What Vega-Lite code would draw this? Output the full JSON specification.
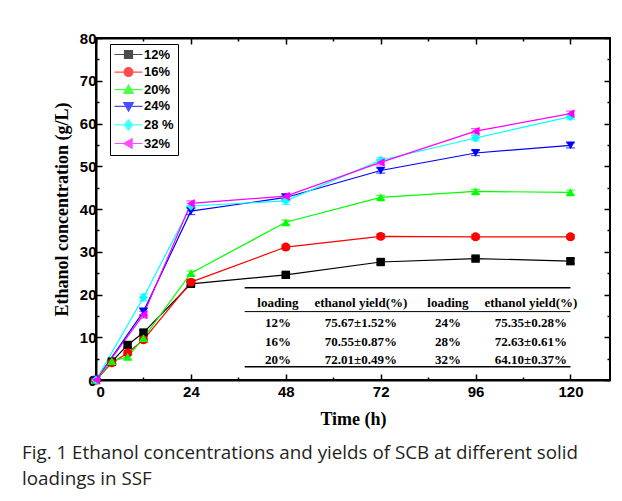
{
  "$schema": "https://vega.github.io/schema/vega-lite/v6.json",
  "width": 514,
  "height": 342,
  "autosize": {"type": "pad"},
  "padding": {"left": 22, "top": 31, "right": 0, "bottom": 5},
  "background": "white",
  "config": {
    "view": {"stroke": "black", "strokeWidth": 2},
    "axis": {"grid": false, "domainColor": "black", "domainWidth": 2, "tickColor": "black", "tickWidth": 1.5, "labelFont": "Liberation Sans", "labelFontWeight": "bold", "labelFontSize": 15, "labelColor": "black", "titleFont": "Liberation Serif", "titleFontWeight": "bold", "titleFontSize": 18, "titleColor": "black"},
    "legend": {"orient": "none", "legendX": 14, "legendY": 6, "title": null, "strokeColor": "black", "fillColor": "white", "padding": 4, "labelFont": "Liberation Sans", "labelFontWeight": "bold", "labelFontSize": 13, "labelColor": "black", "symbolSize": 64, "rowPadding": 2.6, "symbolOffset": 8, "labelOffset": 9, "symbolStrokeWidth": 1.2}
  },
  "title": {
    "text": ["Fig. 1  Ethanol concentrations and yields of SCB at different solid", "loadings in SSF"],
    "orient": "bottom", "anchor": "start", "frame": "group", "dx": -74, "offset": 16,
    "font": "Open Sans", "fontSize": 18.8, "fontWeight": "normal", "color": "#231f20", "lineHeight": 26
  },
  "datasets": {
    "series": [
      {"t": 0, "c": 0, "err": 0.3, "load": "12%"},
      {"t": 4, "c": 4.3, "err": 0.4, "load": "12%"},
      {"t": 8, "c": 8.2, "err": 0.5, "load": "12%"},
      {"t": 12, "c": 11.1, "err": 0.5, "load": "12%"},
      {"t": 24, "c": 22.5, "err": 0.5, "load": "12%"},
      {"t": 48, "c": 24.6, "err": 0.5, "load": "12%"},
      {"t": 72, "c": 27.6, "err": 0.5, "load": "12%"},
      {"t": 96, "c": 28.4, "err": 0.5, "load": "12%"},
      {"t": 120, "c": 27.8, "err": 0.6, "load": "12%"},
      {"t": 0, "c": 0, "err": 0.3, "load": "16%"},
      {"t": 4, "c": 4.0, "err": 0.4, "load": "16%"},
      {"t": 8, "c": 6.3, "err": 0.5, "load": "16%"},
      {"t": 12, "c": 9.4, "err": 0.6, "load": "16%"},
      {"t": 24, "c": 22.9, "err": 0.6, "load": "16%"},
      {"t": 48, "c": 31.1, "err": 0.5, "load": "16%"},
      {"t": 72, "c": 33.6, "err": 0.5, "load": "16%"},
      {"t": 96, "c": 33.5, "err": 0.5, "load": "16%"},
      {"t": 120, "c": 33.5, "err": 0.5, "load": "16%"},
      {"t": 0, "c": 0, "err": 0.3, "load": "20%"},
      {"t": 4, "c": 4.4, "err": 0.4, "load": "20%"},
      {"t": 8, "c": 5.4, "err": 0.6, "load": "20%"},
      {"t": 12, "c": 9.8, "err": 0.6, "load": "20%"},
      {"t": 24, "c": 25.0, "err": 0.5, "load": "20%"},
      {"t": 48, "c": 36.9, "err": 0.5, "load": "20%"},
      {"t": 72, "c": 42.7, "err": 0.5, "load": "20%"},
      {"t": 96, "c": 44.1, "err": 0.5, "load": "20%"},
      {"t": 120, "c": 43.9, "err": 0.5, "load": "20%"},
      {"t": 0, "c": 0, "err": 0.3, "load": "24%"},
      {"t": 12, "c": 16.0, "err": 0.8, "load": "24%"},
      {"t": 24, "c": 39.5, "err": 0.8, "load": "24%"},
      {"t": 48, "c": 42.7, "err": 0.6, "load": "24%"},
      {"t": 72, "c": 49.0, "err": 0.6, "load": "24%"},
      {"t": 96, "c": 53.1, "err": 0.6, "load": "24%"},
      {"t": 120, "c": 54.9, "err": 0.6, "load": "24%"},
      {"t": 0, "c": 0, "err": 0.3, "load": "28 %"},
      {"t": 12, "c": 19.3, "err": 0.8, "load": "28 %"},
      {"t": 24, "c": 40.7, "err": 0.6, "load": "28 %"},
      {"t": 48, "c": 41.9, "err": 0.8, "load": "28 %"},
      {"t": 72, "c": 51.4, "err": 0.6, "load": "28 %"},
      {"t": 96, "c": 56.6, "err": 0.6, "load": "28 %"},
      {"t": 120, "c": 61.6, "err": 0.6, "load": "28 %"},
      {"t": 0, "c": 0, "err": 0.3, "load": "32%"},
      {"t": 12, "c": 15.3, "err": 0.8, "load": "32%"},
      {"t": 24, "c": 41.3, "err": 0.6, "load": "32%"},
      {"t": 48, "c": 43.0, "err": 0.6, "load": "32%"},
      {"t": 72, "c": 50.9, "err": 0.6, "load": "32%"},
      {"t": 96, "c": 58.2, "err": 0.6, "load": "32%"},
      {"t": 120, "c": 62.3, "err": 0.6, "load": "32%"}
    ],
    "tableText": [
      {"tx": 46, "ty": 17.9, "label": "loading"},
      {"tx": 67, "ty": 17.9, "label": "ethanol yield(%)"},
      {"tx": 89, "ty": 17.9, "label": "loading"},
      {"tx": 110, "ty": 17.9, "label": "ethanol yield(%)"},
      {"tx": 46, "ty": 13.3, "label": "12%"},
      {"tx": 67, "ty": 13.3, "label": "75.67±1.52%"},
      {"tx": 89, "ty": 13.3, "label": "24%"},
      {"tx": 110, "ty": 13.3, "label": "75.35±0.28%"},
      {"tx": 46, "ty": 8.9, "label": "16%"},
      {"tx": 67, "ty": 8.9, "label": "70.55±0.87%"},
      {"tx": 89, "ty": 8.9, "label": "28%"},
      {"tx": 110, "ty": 8.9, "label": "72.63±0.61%"},
      {"tx": 46, "ty": 4.7, "label": "20%"},
      {"tx": 67, "ty": 4.7, "label": "72.01±0.49%"},
      {"tx": 89, "ty": 4.7, "label": "32%"},
      {"tx": 110, "ty": 4.7, "label": "64.10±0.37%"}
    ],
    "tableLines": [
      {"lx": 37.6, "lx2": 120, "ly": 21.6, "w": 1.5},
      {"lx": 37.6, "lx2": 120, "ly": 16.0, "w": 1},
      {"lx": 37.6, "lx2": 120, "ly": 3.1, "w": 1.5}
    ]
  },
  "layer": [
    {
      "data": {"name": "series"},
      "encoding": {
        "x": {"field": "t", "type": "quantitative", "scale": {"domain": [0, 130], "nice": false, "zero": true},
          "axis": {"title": "Time (h)", "values": [0, 12, 24, 36, 48, 60, 72, 84, 96, 108, 120],
            "labelExpr": "datum.value % 24 === 0 ? datum.label : ''",
            "tickSize": {"condition": {"test": "datum.value % 24 === 0", "value": -6}, "value": -3},
            "labelPadding": 10, "titlePadding": 11}},
        "y": {"field": "c", "type": "quantitative", "scale": {"domain": [0, 80], "nice": false},
          "axis": {"title": "Ethanol concentration (g/L)", "values": [0, 5, 10, 15, 20, 25, 30, 35, 40, 45, 50, 55, 60, 65, 70, 75, 80],
            "labelExpr": "datum.value % 10 === 0 ? datum.label : ''",
            "tickSize": {"condition": {"test": "datum.value % 10 === 0", "value": -6}, "value": -3},
            "labelPadding": 6, "titlePadding": 8}},
        "color": {"field": "load", "type": "nominal",
          "scale": {"domain": ["12%", "16%", "20%", "24%", "28 %", "32%"], "range": ["#000000", "#ff0000", "#00ff00", "#0000ff", "#00ffff", "#ff00ff"]}}
      },
      "layer": [
        {"mark": {"type": "line", "strokeWidth": 1.2}, "encoding": {"detail": {"field": "load"}}},
        {"mark": {"type": "errorbar", "ticks": {"size": 9}, "thickness": 1.2}, "encoding": {"yError": {"field": "err"}}},
        {"transform": [{"filter": {"field": "load", "equal": "12%"}}], "mark": {"type": "point", "shape": "square", "filled": true, "size": 70, "opacity": 1}},
        {"transform": [{"filter": {"field": "load", "equal": "16%"}}], "mark": {"type": "point", "shape": "circle", "filled": true, "size": 80, "opacity": 1}},
        {"transform": [{"filter": {"field": "load", "equal": "20%"}}], "mark": {"type": "point", "shape": "triangle-up", "filled": true, "size": 80, "opacity": 1}},
        {"transform": [{"filter": {"field": "load", "equal": "24%"}}], "mark": {"type": "point", "shape": "triangle-down", "filled": true, "size": 80, "opacity": 1}},
        {"transform": [{"filter": {"field": "load", "equal": "28 %"}}], "mark": {"type": "point", "shape": "diamond", "filled": true, "size": 80, "opacity": 1}},
        {"transform": [{"filter": {"field": "load", "equal": "32%"}}], "mark": {"type": "point", "shape": "triangle-left", "filled": true, "size": 80, "opacity": 1}}
      ]
    },
    {
      "data": {"values": []},
      "mark": {"type": "point", "filled": true, "opacity": 1},
      "encoding": {
        "color": {"field": "load", "type": "nominal"},
        "stroke": {"field": "load", "type": "nominal",
          "scale": {"domain": ["12%", "16%", "20%", "24%", "28 %", "32%"], "range": ["#000000", "#ff0000", "#00ff00", "#0000ff", "#00ffff", "#ff00ff"]}},
        "shape": {"field": "load", "type": "nominal",
          "scale": {"domain": ["12%", "16%", "20%", "24%", "28 %", "32%"], "range": [
            "M-3.5,0H3.5M-1,-1H1V1H-1Z",
            "M-3.5,0H3.5M-1.1,0A1.1,1.1,0,1,1,1.1,0A1.1,1.1,0,1,1,-1.1,0Z",
            "M-3.5,0H3.5M0,-1.2L1.2,0.9H-1.2Z",
            "M-3.5,0H3.5M0,1.2L1.2,-0.9H-1.2Z",
            "M-3.5,0H3.5M0,-1.3L1.1,0L0,1.3L-1.1,0Z",
            "M-3.5,0H3.5M-1.2,0L0.9,-1.2V1.2Z"
          ]}}
      }
    },
    {
      "data": {"name": "tableText"},
      "mark": {"type": "text", "font": "Liberation Serif", "fontWeight": "bold", "fontSize": 13, "color": "black", "baseline": "middle", "align": "center"},
      "encoding": {
        "x": {"field": "tx", "type": "quantitative",
          "axis": {"orient": "top", "title": null, "labels": false, "values": [0, 12, 24, 36, 48, 60, 72, 84, 96, 108, 120],
            "tickSize": {"condition": {"test": "datum.value % 24 === 0", "value": -6}, "value": -3}}},
        "y": {"field": "ty", "type": "quantitative",
          "axis": {"orient": "right", "title": null, "labels": false, "values": [0, 5, 10, 15, 20, 25, 30, 35, 40, 45, 50, 55, 60, 65, 70, 75, 80],
            "tickSize": {"condition": {"test": "datum.value % 10 === 0", "value": -6}, "value": -3}}},
        "text": {"field": "label"}
      }
    },
    {
      "data": {"name": "tableLines"},
      "mark": {"type": "rule", "color": "black"},
      "encoding": {
        "x": {"field": "lx", "type": "quantitative", "axis": null},
        "x2": {"field": "lx2"},
        "y": {"field": "ly", "type": "quantitative", "axis": null},
        "strokeWidth": {"field": "w", "type": "quantitative", "scale": null, "legend": null}
      }
    }
  ],
  "resolve": {"axis": {"x": "independent", "y": "independent"}}
}
